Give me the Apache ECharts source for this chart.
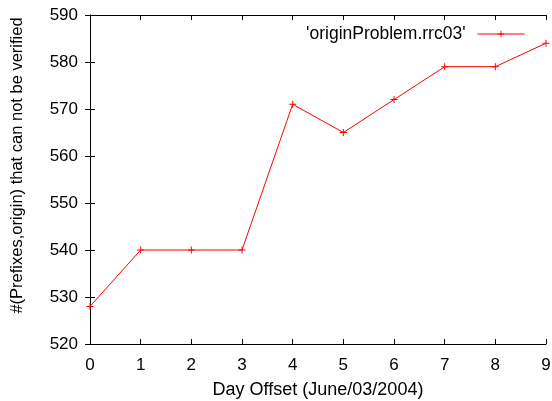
<!DOCTYPE html>
<html>
<head>
<meta charset="utf-8">
<script src="https://cdn.jsdelivr.net/npm/echarts@6/dist/echarts.min.js"></script>
<style>html,body{margin:0;padding:0;background:#fff}#c{width:552px;height:401px}</style>
</head>
<body>
<div id="c"></div>
<script>
const days = [0, 1, 2, 3, 4, 5, 6, 7, 8, 9];
const counts = [528, 540, 540, 540, 571, 565, 572, 579, 579, 584];
const seriesName = "'originProblem.rrc03'";
const xTitle = "Day Offset (June/03/2004)";
const yTitle = "#(Prefixes,origin) that can not be verified";

const font = 'Liberation Sans, Arial, sans-serif';
const plus = 'path://M-0.14,-1 L0.14,-1 L0.14,-0.14 L1,-0.14 L1,0.14 L0.14,0.14 L0.14,1 L-0.14,1 L-0.14,0.14 L-1,0.14 L-1,-0.14 L-0.14,-0.14 Z';
const chart = echarts.init(document.getElementById('c'), null, {renderer: 'canvas'});
const axisLine = {show: true, lineStyle: {color: '#000', width: 1}};
const tick = {show: true, inside: true, length: 5, lineStyle: {color: '#000'}};
chart.setOption({
  animation: false,
  backgroundColor: '#fff',
  grid: {left: 90, right: 6, top: 15, bottom: 57, containLabel: false, outerBoundsMode: 'none'},
  legend: {
    show: true, right: 22, top: 20, align: 'right',
    itemWidth: 47, itemHeight: 8,
    lineStyle: {width: 1},
    textStyle: {fontFamily: font, fontSize: 17.5, color: '#000', padding: [0, 7, 0, 0]},
    data: [{name: seriesName}]
  },
  xAxis: [{
    type: 'value', min: 0, max: 9, interval: 1,
    axisLine: axisLine, axisTick: tick, splitLine: {show: false},
    axisLabel: {fontFamily: font, fontSize: 17, color: '#000', margin: 13},
    name: xTitle, nameLocation: 'middle', nameGap: 37,
    nameTextStyle: {fontFamily: font, fontSize: 18, color: '#000'}
  }, {
    type: 'value', min: 0, max: 9, interval: 1, position: 'top',
    axisLine: axisLine, axisTick: tick, splitLine: {show: false}, axisLabel: {show: false}
  }],
  yAxis: [{
    type: 'value', min: 520, max: 590, interval: 10,
    axisLine: axisLine, axisTick: tick, splitLine: {show: false},
    axisLabel: {fontFamily: font, fontSize: 17, color: '#000', margin: 12},
    name: yTitle, nameLocation: 'middle', nameGap: 64, nameRotate: 90,
    nameTextStyle: {fontFamily: font, fontSize: 16.5, color: '#000', padding: [0, 0, 0, 28]}
  }, {
    type: 'value', min: 520, max: 590, interval: 10, position: 'right',
    axisLine: axisLine, axisTick: tick, splitLine: {show: false}, axisLabel: {show: false}
  }],
  series: [{
    name: seriesName, type: 'line',
    data: days.map((d, i) => [d, counts[i]]),
    symbol: plus, symbolSize: 7, showSymbol: true,
    lineStyle: {color: '#ff0000', width: 1},
    itemStyle: {color: '#ff0000'},
    clip: false
  }]
});
</script>
</body>
</html>
